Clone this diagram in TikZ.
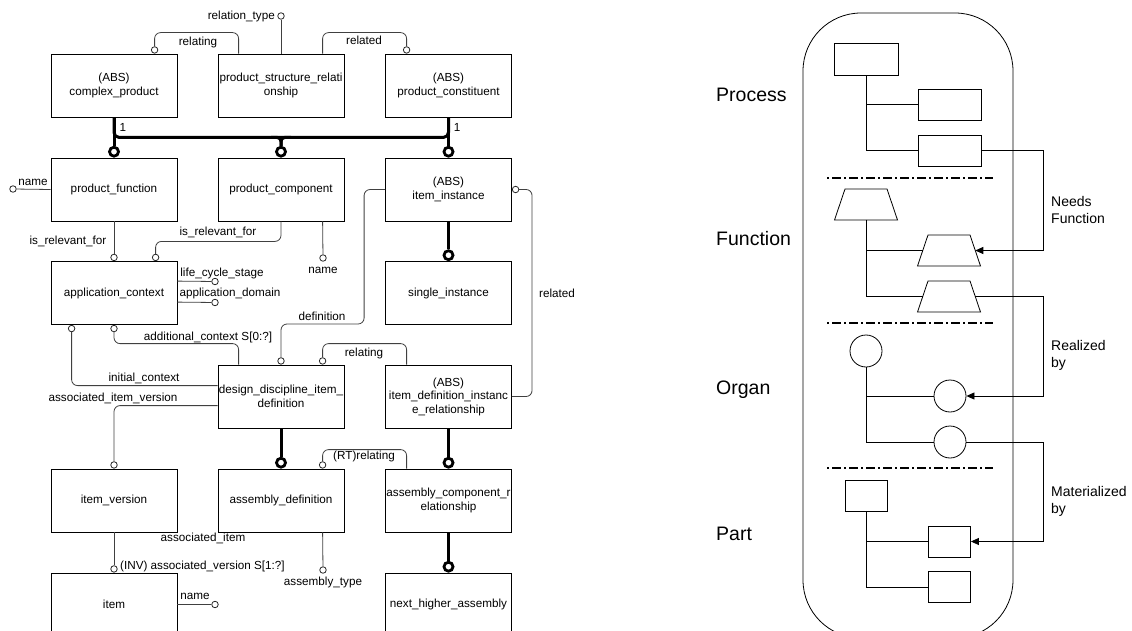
\documentclass[tikz,border=0pt]{standalone}
\usepackage{fontspec}
\setmainfont{Liberation Sans}
\usetikzlibrary{calc,shapes.geometric,arrows.meta}
\newcommand\erfont{\fontsize{11.7}{13.5}\selectfont}
\newcommand\rdfont{\fontsize{14}{17}\selectfont}
\newcommand\bigfont{\fontsize{19.5}{23}\selectfont}
% trapezoid: name, center x, center y
\newcommand\mytrap[3]{%
  \draw[line width=0.8pt] (#2-31.5,#3+15.5) -- (#2-21,#3-15.5) -- (#2+21,#3-15.5) -- (#2+31.5,#3+15.5) -- cycle;
  \coordinate (#1-e) at (#2+26.25,#3);
  \coordinate (#1-w) at (#2-26.25,#3);
  \coordinate (#1-s) at (#2,#3+15.5);}
\begin{document}
\begin{tikzpicture}[x=1pt,y=-1pt,
  ent/.style={draw, line width=0.8pt, minimum width=126pt, minimum height=63pt, inner sep=0pt, align=center, font=\erfont},
  conn/.style={draw=black!75, line width=0.8pt, rounded corners=6pt},
  attrc/.style={circle, draw=black!85, fill=white, line width=0.8pt, minimum size=6.5pt, inner sep=0pt},
  supc/.style={circle, draw, fill=white, line width=2.8pt, minimum size=9pt, inner sep=0pt},
  thk/.style={line width=3pt},
  lbl/.style={font=\erfont, inner sep=0pt},
  tl/.style={draw, line width=0.8pt},
  rbox/.style={draw, line width=0.8pt, inner sep=0pt},
  org/.style={circle, draw, line width=0.8pt, minimum size=32pt, inner sep=0pt},
  pbox/.style={draw, line width=0.8pt, minimum width=42pt, minimum height=31pt, inner sep=0pt},
  sep/.style={line width=1.3pt, dash pattern=on 2pt off 3pt on 9pt off 3pt},
  arr/.style={tl, -{Triangle[length=8pt,width=7pt]}},
  rlbl/.style={font=\rdfont, align=left, inner sep=0pt},
  big/.style={font=\bigfont, inner sep=0pt}]
\useasboundingbox (0,0) rectangle (1132,631);

% ---------- entities ----------
\node[ent] (cp) at (114,85.5) {(ABS)\\complex\_product};
\node[ent] (psr) at (281,85.5) {product\_structure\_relati\\onship};
\node[ent] (pc) at (448.5,85.5) {(ABS)\\product\_constituent};
\node[ent] (pf) at (114,189.5) {product\_function};
\node[ent] (pcomp) at (281,189.5) {product\_component};
\node[ent] (ii) at (448.5,189.5) {(ABS)\\item\_instance};
\node[ent] (ac) at (114,293) {application\_context};
\node[ent] (si) at (448.5,293) {single\_instance};
\node[ent] (dd) at (281,396.5) {design\_discipline\_item\_\\definition};
\node[ent] (idir) at (448.5,396.5) {(ABS)\\item\_definition\_instanc\\e\_relationship};
\node[ent] (iv) at (114,500.5) {item\_version};
\node[ent] (ad) at (281,500.5) {assembly\_definition};
\node[ent] (acr) at (448.5,500.5) {assembly\_component\_r\\elationship};
\node[ent] (item) at (114,604.5) {item};
\node[ent] (nha) at (448.5,604.5) {next\_higher\_assembly};

% ---------- attribute circles ----------
\node[attrc,anchor=south] (c1) at ($(cp.north west)+(104,0)$) {};
\node[attrc] (crt) at (281,16) {};
\node[attrc,anchor=south] (c2) at ($(pc.north west)+(21.5,0)$) {};
\node[supc,anchor=south] (s1) at (pf.north) {};
\node[supc,anchor=south] (s2) at (pcomp.north) {};
\node[supc,anchor=south] (s3) at (ii.north) {};
\node[attrc] (cn1) at (13,189) {};
\node[attrc,anchor=south] (c3) at (ac.north) {};
\node[attrc,anchor=south] (c4) at ($(ac.north west)+(105,0)$) {};
\node[attrc] (cn2) at (323,258) {};
\node[attrc] (clcs) at (215,281.5) {};
\node[attrc] (cad) at (215,302.5) {};
\node[attrc,anchor=north] (c5) at ($(ac.south west)+(21,0)$) {};
\node[attrc,anchor=north] (c6) at (ac.south) {};
\node[supc,anchor=south] (s4) at (si.north) {};
\node[attrc,anchor=west] (c7) at (ii.east) {};
\node[attrc,anchor=south] (c8) at (dd.north) {};
\node[attrc,anchor=south] (c9) at ($(dd.north west)+(105,0)$) {};
\node[attrc,anchor=south] (c10) at (iv.north) {};
\node[supc,anchor=south] (s5) at (ad.north) {};
\node[attrc,anchor=south] (c11) at ($(ad.north west)+(105,0)$) {};
\node[supc,anchor=south] (s6) at (acr.north) {};
\node[attrc] (cat) at (323,570) {};
\node[attrc,anchor=south] (c12) at (item.north) {};
\node[attrc] (cn3) at (215,604.5) {};
\node[supc,anchor=south] (s7) at (nha.north) {};

% ---------- connectors ----------
\draw[conn] ($(psr.north west)+(21,0)$) -- ++(0,-21) -| (c1);
\draw[conn] (psr.north) -- (crt);
\draw[conn] ($(psr.north west)+(105,0)$) -- ++(0,-21) -| (c2);

\coordinate (j1) at ($(cp.south)+(0,20)$);
\coordinate (j3) at ($(pc.south)+(0,20)$);
\coordinate (j2) at (pcomp.north |- j1);
\draw[thk] (cp.south) -- (s1);
\draw[thk] (pc.south) -- (s3);
\draw[thk,rounded corners=5pt] (cp.south) -- (j1) -- (j3) -- (pc.south);
\draw[thk,rounded corners=4pt] ($(j2)+(-10,0)$) -- (j2) -- (s2);
\draw[thk,rounded corners=4pt] ($(j2)+(10,0)$) -- (j2) -- (s2);

\draw[conn] (pf.west) -- (cn1);
\draw[conn] (pf.south) -- (c3);
\draw[conn] (pcomp.south) -- ++(0,20) -| (c4);
\draw[conn] ($(pcomp.south west)+(105,0)$) -- (cn2);
\draw[conn] ($(ac.north east)+(0,20)$) -- (clcs);
\draw[conn] ($(ac.north east)+(0,41)$) -- (cad);
\draw[conn] ($(dd.north west)+(21,0)$) -- ++(0,-21) -| (c6);
\draw[conn] ($(dd.north west)+(0,21)$) -| (c5);
\draw[conn] ($(dd.north west)+(0,41)$) -| (c10);
\draw[conn] (ii.west) -- ++(-21,0) -- ++(0,134.5) -| (c8);
\draw[conn] ($(idir.north west)+(21.5,0)$) -- ++(0,-21) -| (c9);
\draw[conn] (c7) -- ++(16.5,0) |- (idir.east);
\draw[thk] (ii.south) -- (s4);
\draw[thk] (dd.south) -- (s5);
\draw[thk] (idir.south) -- (s6);
\draw[thk] (acr.south) -- (s7);
\draw[conn] ($(acr.north west)+(21.5,0)$) -- ++(0,-19) -| (c11);
\draw[conn] ($(ad.south west)+(105,0)$) -- (cat);
\draw[conn] (iv.south) -- (c12);
\draw[conn] (item.east) -- (cn3);

% ---------- labels ----------
\node[lbl,anchor=east] (l1) at (275,16) {relation\_type};
\node[lbl] (l2) at (198,42) {relating};
\node[lbl] (l3) at (364,40) {related};
\node[lbl] (l4) at (123,127) {1};
\node[lbl] (l5) at (457,127) {1};
\node[lbl] (l6) at (33,182) {name};
\node[lbl] (l7) at (68,241) {is\_relevant\_for};
\node[lbl] (l8) at (218,232) {is\_relevant\_for};
\node[lbl] (l9) at (323,270) {name};
\node[lbl] (l10) at (222,273) {life\_cycle\_stage};
\node[lbl] (l11) at (230,293) {application\_domain};
\node[lbl] (l12) at (208,337) {additional\_context S[0:?]};
\node[lbl] (l13) at (322,316) {definition};
\node[lbl] (l14) at (557,293) {related};
\node[lbl] (l15) at (364,353) {relating};
\node[lbl] (l16) at (144,378) {initial\_context};
\node[lbl] (l17) at (113,398) {associated\_item\_version};
\node[lbl] (l18) at (364,456) {(RT)relating};
\node[lbl] (l19) at (203,538) {associated\_item};
\node[lbl,anchor=west] (l20) at (120,566) {(INV) associated\_version S[1:?]};
\node[lbl] (l21) at (323,582) {assembly\_type};
\node[lbl] (l22) at (195,596) {name};

% ---------- right diagram ----------
\node[draw, line width=0.8pt, rounded corners=58pt, minimum width=210pt, minimum height=625pt, inner sep=0pt] (frame) at (908,325.5) {};
\draw[sep] (827,178) -- (993,178);
\draw[sep] (827,323) -- (993,323);
\draw[sep] (827,468) -- (993,468);

\node[rbox, minimum width=64pt, minimum height=32pt] (p1) at (866,59) {};
\node[rbox, minimum width=63pt, minimum height=31pt] (p2) at (949.5,104.5) {};
\node[rbox, minimum width=63pt, minimum height=31pt] (p3) at (949.5,150.5) {};
\mytrap{f1}{866}{204.5}
\mytrap{f2}{949}{250.5}
\mytrap{f3}{949}{296.5}
\node[org] (o1) at (866,351) {};
\node[org] (o2) at (950,396) {};
\node[org] (o3) at (950,442) {};
\node[pbox] (a1) at (866,495.5) {};
\node[pbox] (a2) at (949.5,541.5) {};
\node[pbox] (a3) at (949.5,587) {};

\draw[tl] (p1.south) |- (p3.west);
\draw[tl] (p1.south |- p2.west) -- (p2.west);
\draw[tl] (f1-s) |- (f3-w);
\draw[tl] (f1-s |- f2-w) -- (f2-w);
\draw[tl] (o1.south) |- (o3.west);
\draw[tl] (o1.south |- o2.west) -- (o2.west);
\draw[tl] (a1.south) |- (a3.west);
\draw[tl] (a1.south |- a2.west) -- (a2.west);

\draw[arr] (p3.east) -- ++(62,0) |- (f2-e);
\draw[arr] (f3-e) -- ++(68,0) |- (o2.east);
\draw[arr] (o3.east) -- ++(77,0) |- (a2.east);

\node[rlbl, anchor=west] (t1) at (1051,209.5) {Needs\\Function};
\node[rlbl, anchor=west] (t2) at (1051,355) {Realized\\by};
\node[rlbl, anchor=west] (t3) at (1051,501) {Materialized\\by};

\node[big, anchor=base west] (b1) at (716,102) {Process};
\node[big, anchor=base west] (b2) at (716,245) {Function};
\node[big, anchor=base west] (b3) at (716,394) {Organ};
\node[big, anchor=base west] (b4) at (716,540) {Part};
\end{tikzpicture}
\end{document}
